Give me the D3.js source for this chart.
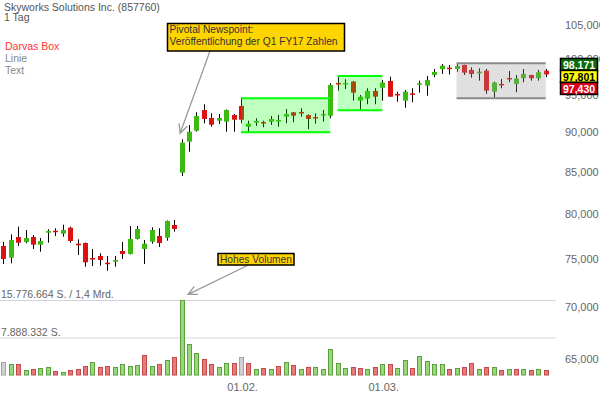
<!DOCTYPE html>
<html>
<head>
<meta charset="utf-8">
<script src="https://cdn.jsdelivr.net/npm/d3@7"></script>
<style>
  body { margin: 0; background: #fff; }
  svg text { font-family: "Liberation Sans", Arial, sans-serif; }
</style>
</head>
<body>
<div class="canvas"></div>
<script>
// trading days, Dec 14 2016 .. Mar 31 2017
const dates = [
  '2016-12-14','2016-12-15','2016-12-16','2016-12-19','2016-12-20','2016-12-21','2016-12-22','2016-12-23',
  '2016-12-27','2016-12-28','2016-12-29','2016-12-30','2017-01-03','2017-01-04','2017-01-05','2017-01-06',
  '2017-01-09','2017-01-10','2017-01-11','2017-01-12','2017-01-13','2017-01-17','2017-01-18','2017-01-19',
  '2017-01-20','2017-01-23','2017-01-24','2017-01-25','2017-01-26','2017-01-27','2017-01-30','2017-01-31',
  '2017-02-01','2017-02-02','2017-02-03','2017-02-06','2017-02-07','2017-02-08','2017-02-09','2017-02-10',
  '2017-02-13','2017-02-14','2017-02-15','2017-02-16','2017-02-17','2017-02-21','2017-02-22','2017-02-23',
  '2017-02-24','2017-02-27','2017-02-28','2017-03-01','2017-03-02','2017-03-03','2017-03-06','2017-03-07',
  '2017-03-08','2017-03-09','2017-03-10','2017-03-13','2017-03-14','2017-03-15','2017-03-16','2017-03-17',
  '2017-03-20','2017-03-21','2017-03-22','2017-03-23','2017-03-24','2017-03-27','2017-03-28','2017-03-29',
  '2017-03-30','2017-03-31'
]

const open = [
  76.436, 75.162, 77.431, 76.877, 77.431, 76.579, 77.911, 78.135, 77.799, 78.472, 76.689, 76.766, 75.129, 75.346, 74.624, 74.731,
  75.889, 75.562, 77.209, 76.107, 76.910, 77.542, 77.353, 78.777, 84.925, 88.793, 90.207, 92.930, 91.868, 91.513, 91.381, 92.265,
  93.466, 90.727, 91.250, 91.342, 91.381, 91.513, 92.040, 92.624, 92.664, 92.265, 92.000, 92.305, 92.172, 96.610, 96.569, 96.791,
  94.185, 94.456, 95.506, 95.960, 96.888, 95.096, 94.185, 95.178, 96.375, 96.236, 97.727, 98.531, 98.758, 98.574, 99.142, 98.432,
  97.966, 98.333, 95.410, 96.472, 97.307, 96.472, 97.265, 97.727, 97.265, 98.333
]
const high = [
  76.910, 77.732, 78.585, 78.214, 77.654, 77.320, 78.292, 78.405, 78.811, 78.585, 77.175, 76.821, 76.107, 75.638, 75.346, 75.346,
  76.877, 78.664, 78.664, 77.098, 78.518, 78.405, 79.290, 79.346, 89.099, 90.949, 92.624, 93.695, 92.491, 92.398, 93.000, 92.398,
  94.642, 91.513, 91.829, 91.513, 92.133, 92.265, 93.064, 92.664, 93.158, 92.330, 92.491, 92.930, 96.569, 97.489, 97.125, 96.888,
  94.959, 95.878, 95.878, 97.028, 97.489, 95.410, 95.644, 95.878, 96.930, 97.587, 98.574, 99.284, 99.142, 99.284, 99.180, 98.815,
  98.673, 98.574, 96.791, 97.167, 98.291, 97.727, 98.574, 97.760, 98.432, 98.574
]
const low = [
  74.485, 74.559, 76.436, 76.733, 76.107, 75.813, 76.799, 77.542, 77.464, 76.799, 75.454, 74.196, 74.271, 74.303, 73.771, 74.196,
  75.022, 75.510, 77.150, 74.485, 76.689, 76.326, 77.020, 78.023, 84.523, 87.526, 90.078, 91.171, 90.727, 91.080, 90.078, 90.078,
  91.171, 90.000, 90.818, 90.649, 90.949, 90.727, 91.171, 91.302, 92.040, 90.389, 91.119, 91.381, 91.829, 95.548, 95.781, 94.185,
  92.934, 93.699, 93.699, 94.185, 94.700, 94.049, 93.242, 93.968, 95.273, 94.864, 97.405, 97.868, 97.798, 98.192, 97.727, 97.349,
  96.930, 95.096, 94.592, 95.878, 96.708, 95.328, 96.708, 96.930, 96.930, 97.430
]
const close = [
  75.022, 77.098, 76.799, 77.320, 76.579, 76.987, 78.101, 78.023, 78.214, 76.987, 76.513, 74.667, 75.054, 74.914, 74.559, 74.914,
  75.562, 77.209, 78.326, 76.689, 78.214, 76.766, 79.231, 78.326, 88.665, 90.078, 92.133, 91.736, 90.988, 91.868, 92.930, 91.644,
  91.644, 91.119, 91.473, 91.250, 91.736, 91.605, 92.398, 92.172, 92.570, 91.736, 91.908, 92.398, 96.333, 96.569, 96.610, 95.273,
  94.727, 95.506, 94.727, 96.652, 94.727, 95.055, 95.410, 95.137, 96.569, 97.028, 98.150, 99.042, 98.673, 98.999, 98.051, 97.868,
  98.192, 95.548, 96.652, 96.375, 97.265, 97.223, 97.868, 97.265, 98.107, 97.801
]
const volume = [
  2682000, 2323000, 2300000, 1056000, 1331000, 1478000, 1690000, 845000, 697000, 1056000, 1204000, 1837000, 2682000, 1626000, 1837000, 1626000,
  2323000, 1837000, 2049000, 4224000, 1964000, 2387000, 3105000, 3738000, 15776664, 6547000, 4583000, 3316000, 2323000, 1626000, 2534000, 2534000,
  3802000, 2534000, 1267000, 1415000, 1267000, 1901000, 2746000, 2049000, 1267000, 1626000, 1626000, 1267000, 5491000, 2598000, 1415000, 1626000,
  1415000, 1267000, 1690000, 2260000, 2323000, 1478000, 3168000, 1542000, 4076000, 2893000, 2260000, 2387000, 1267000, 1542000, 1753000, 2471000,
  1267000, 1753000, 1753000, 1056000, 1267000, 1204000, 1204000, 1056000, 1204000, 1056000
]

const priceTicks = [65, 70, 75, 80, 85, 90, 95, 100, 105]
const dateTicks = ['2017-02-01', '2017-03-01']

// darvas boxes: from / to date, top / bottom price
const boxStart = ['2017-02-01', '2017-02-21', '2017-03-15']
const boxEnd = ['2017-02-17', '2017-03-01', '2017-03-31']
const boxTop = [94.510, 97.587, 99.384]
const boxBottom = [90.000, 92.894, 94.510]
const boxKind = ['green', 'green', 'grey']

const quoteTags = [98.171, 97.801, 97.430]

const width = 600
const height = 400
const fs = 10.5

const de = d3.formatLocale({ decimal: ',', thousands: '.', grouping: [3], currency: ['', ' €'] })
const fmtPrice = de.format(',.3f')
const fmtInt = de.format(',d')

const svg = d3.select('.canvas')
    .append('svg')
    .attr('width', width)
    .attr('height', height)

const xScale = d3.scalePoint().domain(dates).range([3.3, 545.7])
const yScale = d3.scaleLog().domain([65, 105]).range([358.8, 25])
const maxVol = d3.max(volume)
const vScale = d3.scaleLinear().domain([0, maxVol]).range([375, 300.3])

const candles = dates.map((d, i) => ({ date: d, o: open[i], h: high[i], l: low[i], c: close[i], v: volume[i], prev: i > 0 ? close[i - 1] : null }))

// price axis (right)
const yAxis = d3.axisRight(yScale).tickValues(priceTicks).tickSize(0).tickPadding(0).tickFormat(fmtPrice)
svg.append('g')
    .attr('transform', 'translate(565,0)')
    .call(yAxis)
    .call(g => g.select('.domain').remove())
    .selectAll('text')
        .attr('fill', '#666')
        .attr('font-size', 11)
        .style('font-family', '"Liberation Sans", Arial, sans-serif')

// date axis
const parse = d3.timeParse('%Y-%m-%d')
const xAxis = d3.axisBottom(xScale).tickValues(dateTicks).tickSize(0).tickPadding(3).tickFormat(d => d3.timeFormat('%d.%m.')(parse(d)))
svg.append('g')
    .attr('transform', 'translate(1,380)')
    .call(xAxis)
    .call(g => g.select('.domain').remove())
    .selectAll('text')
        .attr('fill', '#666')
        .attr('font-size', 11)
        .style('font-family', '"Liberation Sans", Arial, sans-serif')

// volume reference lines
svg.append('line')
    .attr('x1', 0).attr('x2', 556)
    .attr('y1', Math.round(vScale(maxVol)) + 0.5).attr('y2', Math.round(vScale(maxVol)) + 0.5)
    .attr('stroke', '#d2d2da')
svg.append('line')
    .attr('x1', 0).attr('x2', 556)
    .attr('y1', Math.round(vScale(maxVol / 2))).attr('y2', Math.round(vScale(maxVol / 2)))
    .attr('stroke', '#ebebeb').attr('stroke-width', 2)

svg.append('text').attr('x', 1).attr('y', vScale(maxVol) - 5.5).attr('dy', '0.32em')
    .attr('font-size', fs).attr('fill', '#666')
    .text(`${fmtInt(maxVol)} S. / ${de.format(',.1f')(maxVol * close[volume.indexOf(maxVol)] / 1e9)} Mrd.`)
svg.append('text').attr('x', 1).attr('y', vScale(maxVol / 2) - 5).attr('dy', '0.32em')
    .attr('font-size', fs).attr('fill', '#666')
    .text(`${fmtInt(Math.round(maxVol / 2))} S.`)

// volume bars
const volFill = d => d.prev === null || d.c === d.prev ? '#d0d0d0' : (d.c > d.prev ? '#97d979' : '#e77b7b')
const volStroke = d => d.prev === null || d.c === d.prev ? '#a4a4a4' : (d.c > d.prev ? '#5f9f40' : '#c24a4a')
svg.append('g').selectAll('rect')
    .data(candles)
    .enter()
    .append('rect')
        .attr('x', d => Math.round(xScale(d.date)) - 1.5)
        .attr('y', d => Math.round(vScale(d.v)) + 0.5)
        .attr('width', 4)
        .attr('height', d => 375 - Math.round(vScale(d.v)) - 0.5)
        .attr('fill', volFill)
        .attr('stroke', volStroke)
        .attr('stroke-width', 1)

// candles
const candleG = svg.append('g')
candleG.selectAll('line')
    .data(candles)
    .enter()
    .append('line')
        .attr('x1', d => Math.round(xScale(d.date)) + 0.5)
        .attr('x2', d => Math.round(xScale(d.date)) + 0.5)
        .attr('y1', d => yScale(d.h))
        .attr('y2', d => yScale(d.l))
        .attr('stroke', '#000')

candleG.selectAll('rect')
    .data(candles)
    .enter()
    .append('rect')
        .attr('x', d => Math.round(xScale(d.date)) - 2)
        .attr('y', d => yScale(Math.max(d.o, d.c)))
        .attr('width', 5)
        .attr('height', d => Math.max(1.5, Math.abs(yScale(d.o) - yScale(d.c))))
        .attr('fill', d => d.c >= d.o ? '#3dba12' : '#dd1111')

// darvas boxes
const boxes = boxStart.map((s, i) => ({ s, e: boxEnd[i], top: boxTop[i], bottom: boxBottom[i], kind: boxKind[i] }))
const boxG = svg.append('g')
boxes.forEach(b => {
    const x0 = xScale(b.s), x1 = xScale(b.e)
    const y0 = yScale(b.top), y1 = yScale(b.bottom)
    const green = b.kind === 'green'
    boxG.append('rect')
        .attr('x', x0).attr('y', y0)
        .attr('width', x1 - x0).attr('height', y1 - y0)
        .attr('fill', green ? '#00ff00' : '#999')
        .attr('fill-opacity', green ? 0.25 : 0.3)
    ;[y0, y1].forEach(y => boxG.append('line')
        .attr('x1', x0).attr('x2', x1).attr('y1', y).attr('y2', y)
        .attr('stroke', green ? '#00ff00' : '#8a8a8a')
        .attr('stroke-width', 2))
})

// quote tags on the right
const tagColors = [['#0b6b0b', '#fff'], ['#ffff00', '#000'], ['#e0001a', '#fff']]
const tagMid = yScale(close[close.length - 1]) + 2
quoteTags.forEach((q, i) => {
    const ty = tagMid - 18 + i * 12
    svg.append('rect')
        .attr('x', 560.5).attr('y', ty)
        .attr('width', 37).attr('height', 12)
        .attr('fill', tagColors[i][0])
        .attr('stroke', '#000').attr('stroke-width', 1.5)
    svg.append('text')
        .attr('x', 563).attr('y', ty + 6.5).attr('dy', '0.35em')
        .attr('font-size', 10.5).attr('font-weight', 'bold')
        .attr('fill', tagColors[i][1])
        .text(fmtPrice(q))
})

// header + legend
svg.append('text').attr('x', 4).attr('y', 7).attr('dy', '0.35em').attr('font-size', fs).attr('fill', '#555')
    .text('Skyworks Solutions Inc. (857760)')
svg.append('text').attr('x', 4).attr('y', 17.5).attr('dy', '0.35em').attr('font-size', fs).attr('fill', '#555')
    .text('1 Tag')
const legend = [['Darvas Box', '#ff3333'], ['Linie', '#888'], ['Text', '#888']]
legend.forEach((l, i) => {
    svg.append('text').attr('x', 5).attr('y', 46.5 + i * 12).attr('dy', '0.35em').attr('font-size', fs).attr('fill', l[1])
        .text(l[0])
})

// annotations
const arrow = (x1, y1, x2, y2) => {
    const a = Math.atan2(y2 - y1, x2 - x1)
    const len = 10
    const sp = 0.45
    svg.append('path')
        .attr('d', `M${x1},${y1}L${x2},${y2}` +
            `M${x2 - len * Math.cos(a - sp)},${y2 - len * Math.sin(a - sp)}L${x2},${y2}` +
            `L${x2 - len * Math.cos(a + sp)},${y2 - len * Math.sin(a + sp)}`)
        .attr('fill', 'none')
        .attr('stroke', '#9a9a9a')
        .attr('stroke-width', 1.3)
}

const gapIdx = volume.indexOf(maxVol)
const gap = candles[gapIdx]

arrow(210, 51, xScale(gap.date) - 1.5, yScale(gap.h) - 6)
svg.append('rect').attr('x', 167.5).attr('y', 23.5).attr('width', 177).attr('height', 27.5)
    .attr('fill', '#ffd500').attr('stroke', '#000').attr('stroke-width', 1.5)
svg.append('text').attr('x', 169.5).attr('y', 29).attr('dy', '0.35em').attr('font-size', 10.2).attr('fill', '#333')
    .text('Pivotal Newspoint:')
svg.append('text').attr('x', 169.5).attr('y', 41).attr('dy', '0.35em').attr('font-size', 10.2).attr('fill', '#333')
    .text('Veröffentlichung der Q1 FY17 Zahlen')

arrow(248.5, 265, xScale(gap.date) + 6.5, vScale(gap.v) - 6)
svg.append('rect').attr('x', 218).attr('y', 253.5).attr('width', 76).attr('height', 11.5)
    .attr('fill', '#ffd500').attr('stroke', '#000').attr('stroke-width', 1.5)
svg.append('text').attr('x', 220).attr('y', 259.5).attr('dy', '0.35em').attr('font-size', 10.2).attr('fill', '#333')
    .text('Hohes Volumen')
</script>
</body>
</html>
